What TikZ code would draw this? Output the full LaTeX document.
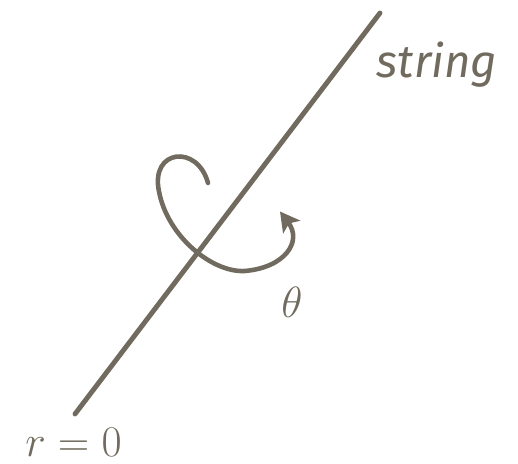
\documentclass[tikz,border=0pt]{standalone}
\usepackage{fontspec}
\newfontfamily\handfont{Fira Sans}
\usetikzlibrary{arrows.meta}
\definecolor{ink}{RGB}{112,107,94}
\begin{document}
\begin{tikzpicture}[line cap=round, line join=round,
    rod/.style={draw=ink, line width=2.8pt},
    twist/.style={draw=ink, line width=2.6pt, -{Stealth[length=11pt, width=12pt, inset=2.5pt]}},
    lab/.style={text=ink, inner sep=0pt}]
  \useasboundingbox (0,0) rectangle (10.36,9.28);
  \coordinate (bot) at (1.5,1.0);
  \coordinate (top) at (7.6,9.02);
  \draw[rod] (bot) -- (top);
  \draw[twist] (4.16,5.62) .. controls (3.95,6.4) and (3.0,6.3) .. (3.18,5.45)
    .. controls (3.35,4.55) and (4.25,3.82) .. (4.9,3.86)
    .. controls (5.7,3.93) and (6.05,4.45) .. (5.6,5.05);
  \node[lab] (str) at (8.74,7.98) {\handfont\itshape\fontsize{26}{30}\selectfont string};
  \node[lab] (ang) at (5.84,3.24) {\fontsize{23}{27}\selectfont$\theta$};
  \node[lab] (orig) at (1.47,0.44) {\fontsize{26}{31}\selectfont$r=0$};
\end{tikzpicture}
\end{document}
